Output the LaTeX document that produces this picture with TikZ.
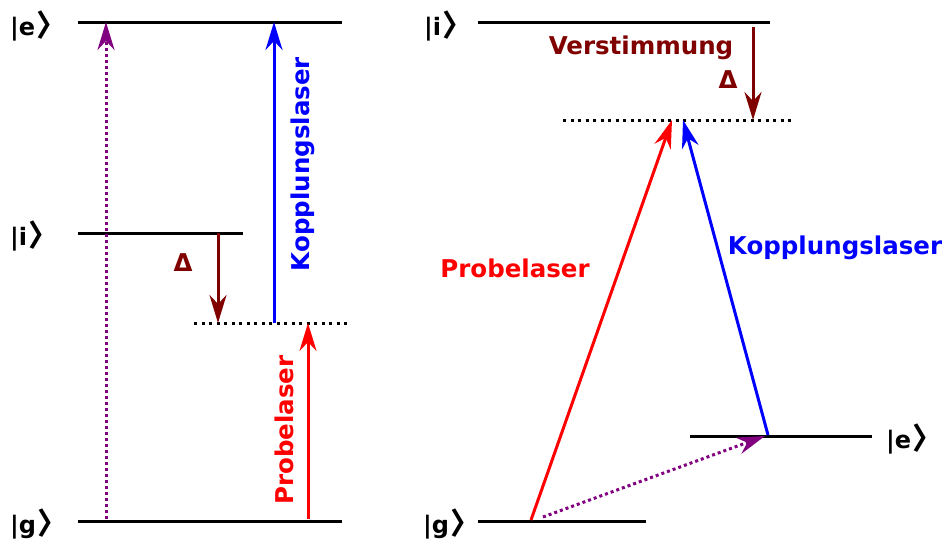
\documentclass[tikz,border=0pt]{standalone}
\usepackage{fontspec}
\setmainfont{DejaVu Sans}
\newfontfamily\cjk{Noto Sans CJK SC}
\usetikzlibrary{arrows.meta}
\definecolor{dred}{RGB}{128,0,0}
\definecolor{purp}{RGB}{128,0,128}
\newcommand{\kt}[1]{|#1\kern1pt{\cjk\bfseries\fontsize{30}{30}\selectfont\raisebox{-1.5pt}{〉}}}
\tikzset{
  level/.style={line width=3pt,black},
  virt/.style={line width=3pt,black,dash pattern=on 3pt off 4.5pt},
  beam/.style={line width=3pt,-{Stealth[length=28pt,width=17pt,inset=9pt]}},
  dotbeam/.style={beam,dash pattern=on 3pt off 3pt},
  lbl/.style={font=\fontsize{24.5}{28}\selectfont\bfseries,inner sep=0pt},
  ket/.style={font=\fontsize{24}{28}\selectfont\bfseries,inner sep=0pt,anchor=west},
}
\begin{document}
\begin{tikzpicture}[x=1pt,y=-1pt]
\useasboundingbox (0,0) rectangle (947,541);
% left diagram
\coordinate (Le1) at (78,22);  \coordinate (Le2) at (342,22);
\coordinate (Li1) at (78,233); \coordinate (Li2) at (243,233);
\coordinate (Lg1) at (78,521); \coordinate (Lg2) at (342,521);
\coordinate (Lv1) at (194,323); \coordinate (Lv2) at (350,323);
\draw[level] (Le1) -- (Le2);
\draw[level] (Li1) -- (Li2);
\draw[level] (Lg1) -- (Lg2);
\draw[virt] (Lv1) -- (Lv2);
\node[ket] (kLe) at (10,26) {\kt{e}};
\node[ket] (kLi) at (10,236) {\kt{i}};
\node[ket] (kLg) at (10,524) {\kt{g}};
\coordinate (pa) at (106,519); \coordinate (pb) at (106,22);
\draw[dotbeam,purp] (pa) -- (pb);
\coordinate (ba) at (274,323); \coordinate (bb) at (274,22);
\draw[beam,blue] (ba) -- (bb);
\coordinate (da) at (218,233); \coordinate (db) at (218,323);
\draw[beam,dred] (da) -- (db);
\coordinate (ra) at (308,519); \coordinate (rb) at (308,323);
\draw[beam,red] (ra) -- (rb);
\node[lbl,blue,rotate=90] (tKL) at (303,164) {Kopplungslaser};
\node[lbl,red,rotate=90] (tPL) at (284,430) {Probelaser};
\node[lbl,dred] (tDL) at (183,263) {Δ};
% right diagram
\coordinate (Ri1) at (478,22); \coordinate (Ri2) at (770,22);
\coordinate (Rv1) at (563,120); \coordinate (Rv2) at (793,120);
\coordinate (Re1) at (690,436); \coordinate (Re2) at (872,436);
\coordinate (Rg1) at (478,521); \coordinate (Rg2) at (646,521);
\draw[level] (Ri1) -- (Ri2);
\draw[virt] (Rv1) -- (Rv2);
\draw[level] (Re1) -- (Re2);
\draw[level] (Rg1) -- (Rg2);
\node[ket] (kRi) at (424,26) {\kt{i}};
\node[ket] (kRe) at (886,439) {\kt{e}};
\node[ket] (kRg) at (423,524) {\kt{g}};
\coordinate (Rda) at (753,27); \coordinate (Rdb) at (753,120);
\draw[beam,dred] (Rda) -- (Rdb);
\node[lbl,dred] (tV) at (641,48) {Verstimmung};
\node[lbl,dred] (tDR) at (728,80) {Δ};
\coordinate (Rra) at (531,520); \coordinate (Rrb) at (672,120);
\draw[beam,red] (Rra) -- (Rrb);
\coordinate (Rba) at (768,435); \coordinate (Rbb) at (683,120);
\draw[beam,blue] (Rba) -- (Rbb);
\node[lbl,red] (tPR) at (515,268) {Probelaser};
\node[lbl,blue] (tKR) at (835,248) {Kopplungslaser};
\coordinate (Rpa) at (543,517); \coordinate (Rpb) at (765,436);
\draw[dotbeam,purp] (Rpa) -- (Rpb);
\end{tikzpicture}
\end{document}
